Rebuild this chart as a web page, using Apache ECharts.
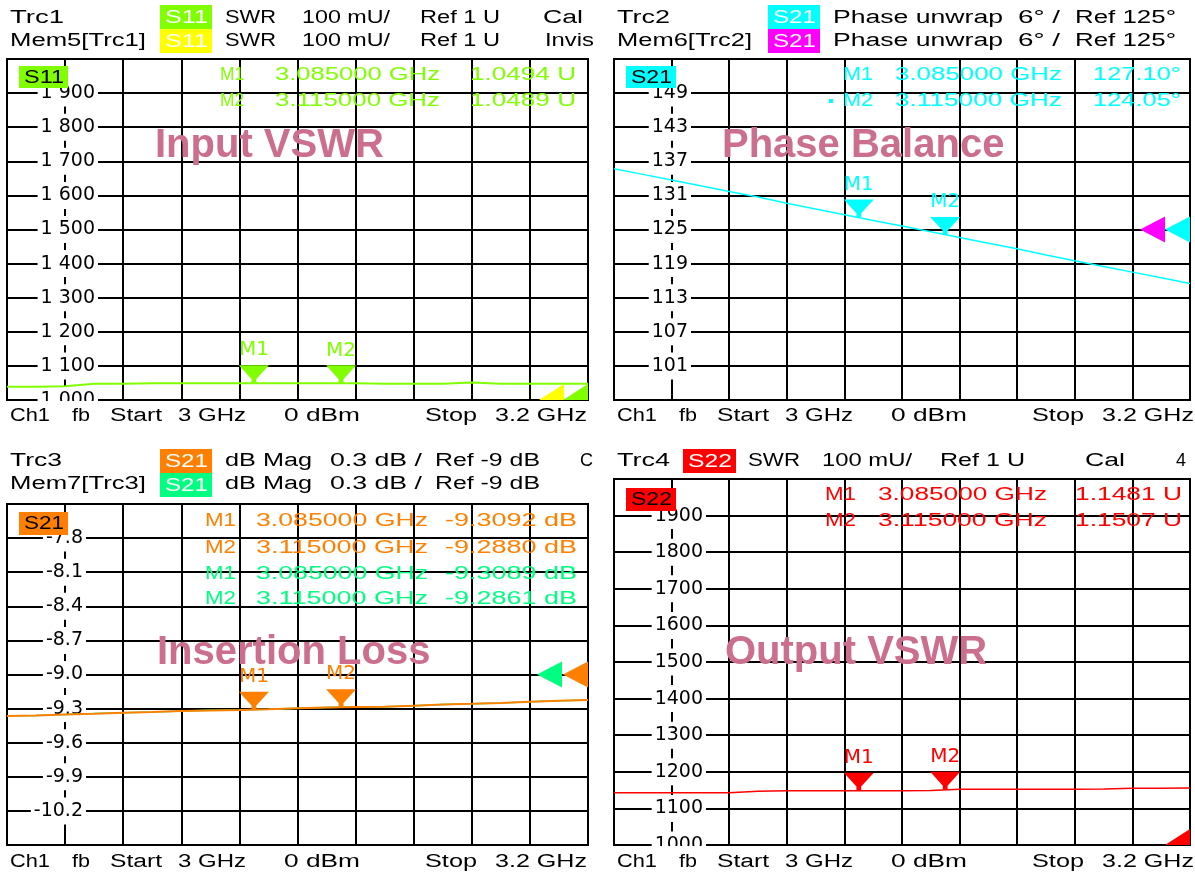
<!DOCTYPE html>
<html>
<head>
<meta charset="utf-8">
<script src="https://cdn.jsdelivr.net/npm/echarts@6/dist/echarts.min.js"></script>
<style>
html, body { margin: 0; background: #fff; }
#chart { width: 1195px; height: 876px; }
</style>
</head>
<body>
<div id="chart"></div>
<script>
// sweep points (GHz)
const freqGHz = [3.00, 3.01, 3.02, 3.03, 3.04, 3.05, 3.06, 3.07, 3.08, 3.09, 3.10,
                 3.11, 3.12, 3.13, 3.14, 3.15, 3.16, 3.17, 3.18, 3.19, 3.20];

// traces
const s11Swr = [1.039, 1.039, 1.040, 1.048, 1.048, 1.049, 1.049, 1.049, 1.049, 1.049, 1.049,
                1.049, 1.049, 1.048, 1.048, 1.048, 1.051, 1.048, 1.048, 1.048, 1.048];
const s21Phase = [135.7, 134.7, 133.7, 132.7, 131.7, 130.7, 129.6, 128.6, 127.6, 126.6, 125.6,
                  124.6, 123.6, 122.6, 121.6, 120.5, 119.5, 118.5, 117.5, 116.5, 115.5];
const s21Mag = [-9.365, -9.360, -9.352, -9.345, -9.336, -9.330, -9.322, -9.316, -9.312, -9.306, -9.296,
                -9.290, -9.286, -9.283, -9.275, -9.264, -9.258, -9.250, -9.240, -9.232, -9.225];
const s21MagMem = [-9.363, -9.360, -9.352, -9.344, -9.336, -9.330, -9.322, -9.315, -9.312, -9.306, -9.297,
                   -9.290, -9.286, -9.283, -9.275, -9.264, -9.258, -9.250, -9.240, -9.232, -9.225];
const s22Swr = [1.143, 1.143, 1.143, 1.143, 1.143, 1.147, 1.148, 1.148, 1.148, 1.148, 1.148,
                1.149, 1.152, 1.152, 1.152, 1.152, 1.152, 1.153, 1.155, 1.155, 1.156];

// markers
const markerNames = ['M1', 'M2'];
const markerFreqs = [3.085, 3.115];
const s11Markers = [1.0494, 1.0489];
const phaseMarkers = [127.10, 124.05];
const magMarkers = [-9.3092, -9.2880];
const magMemMarkers = [-9.3089, -9.2861];
const s22Markers = [1.1481, 1.1507];

// reference levels
const refSwr = 1;
const refPhase = 125;
const refMag = -9;

// tick labels
const swrTicksTop = ['1 000', '1 100', '1 200', '1 300', '1 400', '1 500', '1 600', '1 700', '1 800', '1 900', '2 000'];
const swrTicksBottom = ['1000', '1100', '1200', '1300', '1400', '1500', '1600', '1700', '1800', '1900', '2000'];
const phaseTicks = ['95', '101', '107', '113', '119', '125', '131', '137', '143', '149', '155'];
const magTicks = ['-10.5', '-10.2', '-9.9', '-9.6', '-9.3', '-9.0', '-8.7', '-8.4', '-8.1', '-7.8', '-7.5'];

const GREEN = '#80ff00', YELLOW = '#ffff00', CYAN = '#00ffff', MAGENTA = '#ff00ff',
      ORANGE = '#ff8000', MEMGREEN = '#00ff80', RED = '#ff0000', TITLE = '#cc6e8e';

const chart = echarts.init(document.getElementById('chart'));

// panels: grid box + y scale
const panels = [
    { box: { left: 7, top: 59, width: 581, height: 341 }, min: 1, max: 2, step: 0.1, ticks: swrTicksTop, labelEnd: 91, showMin: true },
    { box: { left: 614, top: 59, width: 576, height: 341 }, min: 95, max: 155, step: 6, ticks: phaseTicks, labelEnd: 77, showMin: false },
    { box: { left: 7, top: 504, width: 581, height: 341 }, min: -10.5, max: -7.5, step: 0.3, ticks: magTicks, labelEnd: 79, showMin: false },
    { box: { left: 614, top: 479, width: 576, height: 366 }, min: 1, max: 2, step: 0.1, ticks: swrTicksBottom, labelEnd: 92, showMin: true }
];

const gridLine = { show: true, lineStyle: { color: '#000', width: 2 } };

const grids = panels.map(p => Object.assign({
    show: true, borderColor: '#000', borderWidth: 2, backgroundColor: '#fff',
    containLabel: false, outerBoundsMode: 'none'
}, p.box));

const xAxes = panels.map((p, i) => ({
    type: 'value', gridIndex: i, min: 3.0, max: 3.2, interval: 0.02,
    axisLine: { show: false }, axisTick: { show: false }, axisLabel: { show: false },
    splitLine: gridLine
}));

const yAxes = panels.map((p, i) => ({
    type: 'value', gridIndex: i, min: p.min, max: p.max, interval: p.step,
    axisLine: { show: false }, axisTick: { show: false },
    splitLine: gridLine,
    axisLabel: {
        inside: true, align: 'right', margin: p.labelEnd,
        fontFamily: 'DejaVu Sans', fontSize: 19, lineHeight: 19, color: '#000',
        backgroundColor: '#fff', padding: [4, 3],
        showMaxLabel: false, showMinLabel: p.showMin,
        formatter: v => p.ticks[Math.round((v - p.min) / p.step)]
    }
}));

// marker funnel, reference-level arrows
const triDown = 'path://M0,0 L10,0 L5.8,4.6 L5.8,6 L4.2,6 L4.2,4.6 Z';
const triLeft = 'path://M0,5 L10,0 L10,10 Z';
const triHalf = 'path://M0,10 L10,0 L10,10 Z';

function trace(i, ys, color, width) {
    return {
        type: 'line', xAxisIndex: i, yAxisIndex: i, symbol: 'none', z: 3,
        lineStyle: { color: color, width: width || 1.5 },
        data: freqGHz.map((f, k) => [f, ys[k]])
    };
}

function markers(i, vals, color) {
    return {
        type: 'scatter', xAxisIndex: i, yAxisIndex: i, z: 5,
        symbol: triDown, symbolSize: [30, 18], symbolOffset: [0, -9],
        itemStyle: { color: color, opacity: 1 },
        label: { show: true, position: 'top', distance: 5, formatter: '{b}', color: color, fontSize: 20, fontFamily: 'DejaVu Sans' },
        data: markerFreqs.map((f, k) => ({ name: markerNames[k], value: [f, vals[k]] }))
    };
}

function refMark(i, value, color, shift, half) {
    return {
        type: 'scatter', xAxisIndex: i, yAxisIndex: i, z: 4, clip: false, silent: true,
        symbol: half ? triHalf : triLeft,
        symbolSize: half ? [25, 16] : [25, 26],
        symbolOffset: half ? [-12.5 - shift, -8] : [-12.5 - shift, 0],
        itemStyle: { color: color, opacity: 1 },
        data: [[freqGHz[freqGHz.length - 1], value]]
    };
}

const series = [
    trace(0, s11Swr, GREEN, 2),
    markers(0, s11Markers, GREEN),
    refMark(0, refSwr, YELLOW, 24, true),
    refMark(0, refSwr, GREEN, 0, true),

    trace(1, s21Phase, CYAN, 1.5),
    markers(1, phaseMarkers, CYAN),
    refMark(1, refPhase, MAGENTA, 25, false),
    refMark(1, refPhase, CYAN, 0, false),

    trace(2, s21MagMem, MEMGREEN, 1.5),
    trace(2, s21Mag, ORANGE, 2),
    markers(2, magMarkers, ORANGE),
    refMark(2, refMag, MEMGREEN, 26, false),
    refMark(2, refMag, ORANGE, 0, false),

    trace(3, s22Swr, RED, 1.5),
    markers(3, s22Markers, RED),
    refMark(3, refSwr, RED, 0, true)
];

// ---- screen texts (instrument font is horizontally stretched) ----
const FONT = '18px "Liberation Sans"';
const mctx = document.createElement('canvas').getContext('2d');

function fitText(str, x0, x1, y, color, font) {
    font = font || FONT;
    mctx.font = font;
    const w = mctx.measureText(str).width;
    return {
        type: 'text', x: x0, y: y, scaleX: (x1 - x0) / w, z: 10, silent: true,
        style: { text: str, font: font, fill: color || '#000', verticalAlign: 'middle', align: 'left' }
    };
}

const headerItems = [
    ['Trc1', 10, 64, 18], ['SWR', 225, 276, 18], ['100 mU/', 302, 390, 18], ['Ref 1 U', 420, 500, 18], ['Cal', 543, 583, 18],
    ['Mem5[Trc1]', 10, 146, 41], ['SWR', 225, 276, 41], ['100 mU/', 302, 390, 41], ['Ref 1 U', 420, 500, 41], ['Invis', 545, 594, 41],
    ['Trc2', 617, 670, 18], ['Phase unwrap', 833, 1003, 18], ['6° /', 1018, 1060, 18], ['Ref 125°', 1075, 1176, 18],
    ['Mem6[Trc2]', 617, 752, 41], ['Phase unwrap', 833, 1003, 41], ['6° /', 1018, 1060, 41], ['Ref 125°', 1075, 1176, 41],
    ['Trc3', 10, 62, 461], ['dB Mag', 225, 312, 461], ['0.3 dB /', 330, 422, 461], ['Ref -9 dB', 435, 540, 461], ['C', 580, 593, 461],
    ['Mem7[Trc3]', 10, 146, 484], ['dB Mag', 225, 312, 484], ['0.3 dB /', 330, 422, 484], ['Ref -9 dB', 435, 540, 484],
    ['Trc4', 617, 670, 461], ['SWR', 748, 800, 461], ['100 mU/', 822, 912, 461], ['Ref 1 U', 940, 1025, 461], ['Cal', 1085, 1125, 461], ['4', 1176, 1186, 461]
];

const footerLeft = [['Ch1', 10, 50], ['fb', 72, 90], ['Start', 110, 162], ['3 GHz', 178, 246], ['0 dBm', 284, 360], ['Stop', 425, 477], ['3.2 GHz', 495, 587]];

const badges = [
    ['S11', 160, 5, 52, 24, GREEN, '#fff'], ['S11', 160, 29, 52, 24, YELLOW, '#fff'],
    ['S21', 768, 5, 52, 24, CYAN, '#fff'], ['S21', 768, 29, 52, 24, MAGENTA, '#fff'],
    ['S21', 160, 449, 52, 24, ORANGE, '#fff'], ['S21', 160, 473, 52, 24, MEMGREEN, '#fff'],
    ['S22', 683, 449, 53, 24, RED, '#fff'],
    ['S11', 19, 66, 49, 22, GREEN, '#000'], ['S21', 626, 66, 50, 22, CYAN, '#000'],
    ['S21', 19, 512, 49, 23, ORANGE, '#000'], ['S22', 626, 488, 50, 23, RED, '#000']
];

const titles = [['Input VSWR', 155, 146], ['Phase Balance', 722, 146], ['Insertion Loss', 157, 653], ['Output VSWR', 725, 653]];

const graphics = [];
headerItems.forEach(h => graphics.push(fitText(h[0], h[1], h[2], h[3])));
[[0, 416], [607, 416], [0, 862], [607, 862]].forEach(o => {
    footerLeft.forEach(f => graphics.push(fitText(f[0], f[1] + o[0], f[2] + o[0], o[1])));
});
badges.forEach(b => {
    graphics.push({ type: 'rect', z: 9, silent: true, shape: { x: b[1], y: b[2], width: b[3], height: b[4] }, style: { fill: b[5] } });
    graphics.push(fitText(b[0], b[1] + 5, b[1] + b[3] - 4, b[2] + b[4] / 2 + 1, b[6]));
});
titles.forEach(t => graphics.push({
    type: 'text', x: t[1], y: t[2], z: 10, silent: true,
    style: { text: t[0], font: 'bold 40px "Liberation Sans"', fill: TITLE, verticalAlign: 'middle' }
}));

// marker readouts
function readout(cols, y, name, freq, valueText, color) {
    graphics.push(fitText(name, cols[0], cols[1], y, color));
    graphics.push(fitText(freq.toFixed(6) + ' GHz', cols[2], cols[3], y, color));
    graphics.push(fitText(valueText, cols[4], cols[5], y, color));
}
[0, 1].forEach(k => {
    readout([220, 244, 275, 440, 470, 576], 75 + 26 * k, markerNames[k], markerFreqs[k], s11Markers[k].toFixed(4) + ' U', GREEN);
    readout([843, 873, 895, 1062, 1093, 1181], 75 + 26 * k, markerNames[k], markerFreqs[k], phaseMarkers[k].toFixed(2) + '°', CYAN);
    readout([205, 236, 256, 428, 445, 577], 521 + 27 * k, markerNames[k], markerFreqs[k], magMarkers[k].toFixed(4) + ' dB', ORANGE);
    readout([205, 236, 256, 428, 445, 577], 574 + 25 * k, markerNames[k], markerFreqs[k], magMemMarkers[k].toFixed(4) + ' dB', MEMGREEN);
    readout([825, 856, 878, 1047, 1075, 1182], 495 + 26 * k, markerNames[k], markerFreqs[k], s22Markers[k].toFixed(4) + ' U', RED);
});
// active marker bullet
graphics.push({ type: 'rect', z: 10, silent: true, shape: { x: 829, y: 99, width: 4, height: 4 }, style: { fill: CYAN } });

// bottom labels of the SWR panels are cut by the frame
graphics.push({ type: 'rect', z: 5, silent: true, shape: { x: 20, y: 401, width: 100, height: 8 }, style: { fill: '#fff' } });
graphics.push({ type: 'rect', z: 5, silent: true, shape: { x: 627, y: 846, width: 100, height: 8 }, style: { fill: '#fff' } });

const option = {
    animation: false,
    backgroundColor: '#fff',
    grid: grids,
    xAxis: xAxes,
    yAxis: yAxes,
    series: series,
    graphic: graphics
};

chart.setOption(option);
window.addEventListener('resize', () => chart.resize());
</script>
</body>
</html>
